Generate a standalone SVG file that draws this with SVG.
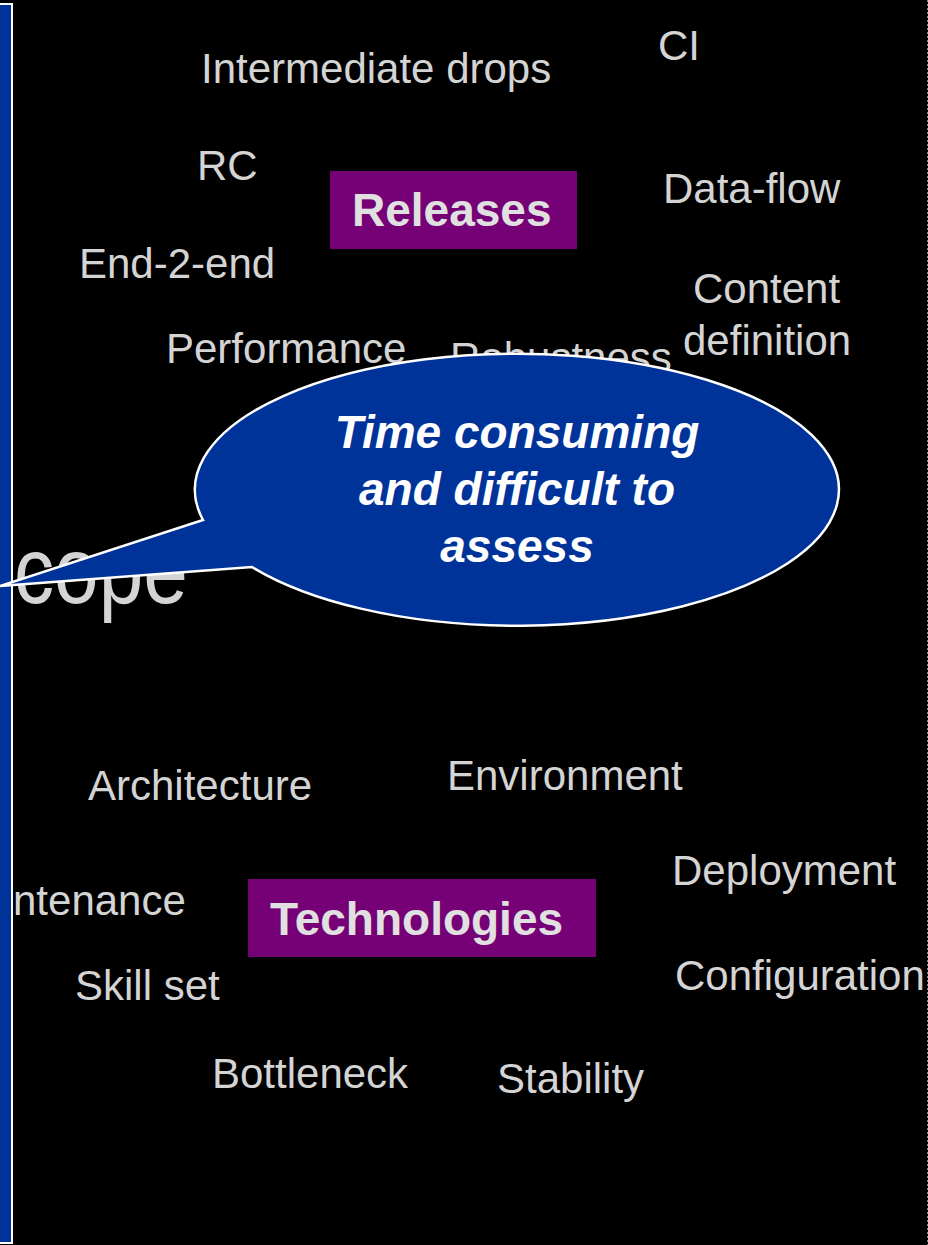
<svg xmlns="http://www.w3.org/2000/svg" width="928" height="1245" viewBox="0 0 928 1245">
<style>
.t{font-family:"Liberation Sans",Arial,sans-serif;font-size:42px;fill:#d4d4d4}
.b{font-family:"Liberation Sans",Arial,sans-serif;font-size:46px;font-weight:bold;fill:#e0e0e0}
.c{font-family:"Liberation Sans",Arial,sans-serif;font-size:46px;font-weight:bold;font-style:italic;fill:#ffffff;text-anchor:middle}
.box{fill:#760076}
</style>
<rect x="0" y="0" width="928" height="1245" fill="#000000"/>
<line x1="927.5" y1="0" x2="927.5" y2="1245" stroke="#8a8a8a" stroke-width="1" stroke-dasharray="2,2"/>
<g id="scope"><text class="t" x="14" y="603" style="font-size:94px" textLength="174" lengthAdjust="spacingAndGlyphs">cope</text></g>
<g id="intermediate-drops"><text class="t" x="201" y="83">Intermediate drops</text></g>
<g id="ci"><text class="t" x="658" y="60">CI</text></g>
<g id="rc"><text class="t" x="197" y="180">RC</text></g>
<g id="data-flow"><text class="t" x="663" y="203">Data-flow</text></g>
<g id="end-2-end"><text class="t" x="79" y="278">End-2-end</text></g>
<g id="content-definition"><text class="t" x="693" y="303">Content</text><text class="t" x="683" y="355">definition</text></g>
<g id="performance"><text class="t" x="166" y="363">Performance</text></g>
<g id="robustness"><text class="t" x="450" y="372">Robustness</text></g>
<g id="releases"><rect class="box" x="330" y="171" width="247" height="78"/><text class="b" x="352" y="226">Releases</text></g>
<g id="architecture"><text class="t" x="88" y="800">Architecture</text></g>
<g id="environment"><text class="t" x="447" y="790">Environment</text></g>
<g id="deployment"><text class="t" x="672" y="885">Deployment</text></g>
<g id="maintenance"><text class="t" x="13" y="915">ntenance</text></g>
<g id="technologies"><rect class="box" x="248" y="879" width="348" height="78"/><text class="b" x="270" y="935">Technologies</text></g>
<g id="skill-set"><text class="t" x="75" y="1000">Skill set</text></g>
<g id="configuration"><text class="t" x="675" y="990">Configuration</text></g>
<g id="bottleneck"><text class="t" x="212" y="1088">Bottleneck</text></g>
<g id="stability"><text class="t" x="497" y="1093">Stability</text></g>
<g id="sidebar"><rect x="-2" y="4" width="14" height="1239" fill="#003399" stroke="#ffffff" stroke-width="2"/></g>
<g id="callout">
<path d="M 252 567 A 322 136 0 1 0 203 520 L 0 586 Z" fill="#003399" stroke="#ffffff" stroke-width="2.5" stroke-linejoin="miter"/>
<text class="c" x="517" y="448">Time consuming</text>
<text class="c" x="517" y="505">and difficult to</text>
<text class="c" x="517" y="562">assess</text>
</g>
</svg>
